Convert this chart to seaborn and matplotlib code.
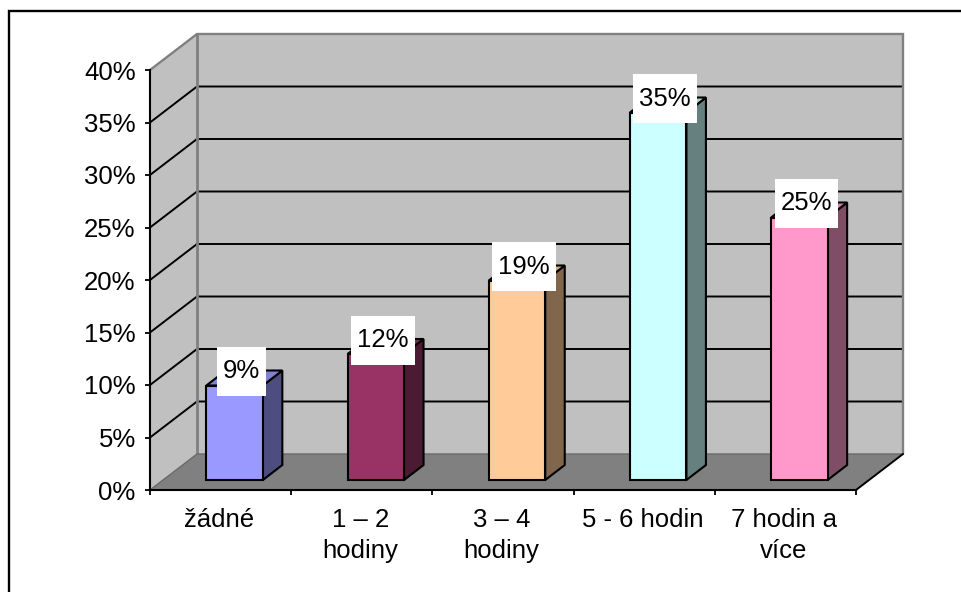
import matplotlib
matplotlib.use("Agg")
import matplotlib.pyplot as plt
import matplotlib.colors as mcolors
from matplotlib.lines import Line2D
from matplotlib.patches import Polygon, Rectangle
import seaborn as sns

categories = ["žádné", "1 – 2\nhodiny", "3 – 4\nhodiny", "5 - 6 hodin", "7 hodin a\nvíce"]
values = [9, 12, 19, 35, 25]
value_labels = ["9%", "12%", "19%", "35%", "25%"]
bar_colors = ["#9999FF", "#993366", "#FFCC99", "#CCFFFF", "#FF99CC"]
y_ticks = [0, 5, 10, 15, 20, 25, 30, 35, 40]

sns.set_style("white")
plt.rcParams["font.family"] = ["Liberation Sans", "DejaVu Sans"]

W, H = 962, 592
TEXT_SIZE = 18.5
fig = plt.figure(figsize=(W / 100, H / 100), dpi=100, facecolor="white")
ax = fig.add_axes([150 / W, (H - 490) / H, 706 / W, 420 / H])
ax.patch.set_visible(False)

sns.barplot(x=categories, y=values, hue=categories, palette=bar_colors, width=0.4,
            dodge=False, legend=False, saturation=1, ax=ax, zorder=5,
            edgecolor="black", linewidth=1.5)

ax.set_xlim(-0.5, 4.5)
ax.set_ylim(0, 40)

# Pixel sizes of the pseudo-3D projection, expressed in data units
PX_X = 1 / 141.2
PX_Y = 1 / 10.5
wall_dx, wall_dy = 47 * PX_X, 36 * PX_Y
bar_dx, bar_dy = 19.5 * PX_X, 15 * PX_Y
shift_x, shift_y = 14 * PX_X, 10 * PX_Y
x_lo, x_hi = -0.5, 4.5
y_lo, y_hi = 0, 40


def face(points, color, z, edge=None, lw=0.0):
    ax.add_patch(Polygon(points, closed=True, facecolor=color, edgecolor=edge or color,
                         linewidth=lw, zorder=z, clip_on=False, joinstyle="miter"))


def shade(color, factor):
    r, g, b = mcolors.to_rgb(color)
    return (r * factor, g * factor, b * factor)


# Back wall, side wall and floor
face([(x_lo + wall_dx, wall_dy), (x_hi + wall_dx, wall_dy),
      (x_hi + wall_dx, y_hi + wall_dy), (x_lo + wall_dx, y_hi + wall_dy)], "#C0C0C0", 0.5)
face([(x_lo, y_lo), (x_lo + wall_dx, wall_dy),
      (x_lo + wall_dx, y_hi + wall_dy), (x_lo, y_hi)], "#C0C0C0", 0.5)
face([(x_lo, y_lo), (x_hi, y_lo), (x_hi + wall_dx, wall_dy), (x_lo + wall_dx, wall_dy)],
     "#808080", 0.6)

# Gridlines run across the back wall and down the side wall
for tick in y_ticks[1:-1]:
    ax.plot([x_lo, x_lo + wall_dx, x_hi + wall_dx],
            [tick, tick + wall_dy, tick + wall_dy],
            color="black", lw=1.4, zorder=1, clip_on=False, solid_joinstyle="miter")

# Grey outlines of the walls
ax.plot([x_lo, x_lo + wall_dx, x_hi + wall_dx, x_hi + wall_dx],
        [y_hi, y_hi + wall_dy, y_hi + wall_dy, wall_dy],
        color="#808080", lw=1.7, zorder=1.2, clip_on=False, solid_joinstyle="miter")
ax.plot([x_lo + wall_dx, x_lo + wall_dx], [wall_dy, y_hi + wall_dy],
        color="#808080", lw=2.0, zorder=1.2, clip_on=False)
ax.plot([x_lo, x_lo + wall_dx, x_hi + wall_dx], [y_lo, wall_dy, wall_dy],
        color="#6A6A6A", lw=1.0, zorder=1.2, clip_on=False)
ax.plot([x_hi, x_hi + wall_dx], [y_lo, wall_dy],
        color="black", lw=1.4, zorder=1.3, clip_on=False)

# Slide the bars onto the floor and give them side and top faces
fronts = [p for p in ax.patches if isinstance(p, Rectangle) and p.get_height() > 0]
for bar, value, color in zip(fronts, values, bar_colors):
    bar.set_x(bar.get_x() + shift_x)
    bar.set_y(shift_y)
    bar.set_clip_on(False)
    x0, x1 = bar.get_x(), bar.get_x() + bar.get_width()
    base, top = shift_y, shift_y + value
    face([(x1, base), (x1 + bar_dx, base + bar_dy), (x1 + bar_dx, top + bar_dy), (x1, top)],
         shade(color, 0.5), 4, "black", 1.5)
    face([(x0, top), (x1, top), (x1 + bar_dx, top + bar_dy), (x0 + bar_dx, top + bar_dy)],
         shade(color, 5 / 6), 4, "black", 1.5)

# Value labels sit on white boxes above each bar
fig.canvas.draw()
renderer = fig.canvas.get_renderer()
for bar, value, text in zip(fronts, values, value_labels):
    cx = bar.get_x() + bar.get_width() / 2 + 7 * PX_X
    cy = shift_y + value + 14 * PX_Y
    label = ax.text(cx, cy, text, ha="center", va="center", fontsize=TEXT_SIZE, color="black",
                    zorder=8, clip_on=False)
    box_w = (label.get_window_extent(renderer).width + 12) * PX_X
    box_h = 49 * PX_Y
    ax.add_patch(Rectangle((cx - box_w / 2, cy - box_h / 2), box_w, box_h,
                           facecolor="white", edgecolor="none", zorder=7, clip_on=False))

# Axes: ticks mark category boundaries, labels sit at the centres
for side in ("top", "right"):
    ax.spines[side].set_visible(False)
for side in ("left", "bottom"):
    ax.spines[side].set_visible(True)
    ax.spines[side].set_color("black")
    ax.spines[side].set_linewidth(1.5)
    ax.spines[side].set_zorder(2)

ax.set_yticks(y_ticks)
ax.set_yticklabels([f"{t}%" for t in y_ticks], fontsize=TEXT_SIZE, color="black",
                   verticalalignment="center_baseline")
ax.set_xticks([x_lo + i for i in range(6)])
ax.set_xticklabels([])
ax.set_xticks([i - 1.5 * PX_X for i in range(len(categories))], minor=True)
ax.set_xticklabels(categories, minor=True, fontsize=TEXT_SIZE, color="black", linespacing=1.34)
ax.tick_params(axis="y", which="major", left=True, length=3.8, width=1.3, pad=6.5, color="black")
ax.tick_params(axis="x", which="major", bottom=True, length=3.8, width=1.3, color="black")
ax.tick_params(axis="x", which="minor", bottom=False, length=0, pad=13)
ax.set_xlabel("")
ax.set_ylabel("")
ax.grid(False)

# Chart frame, cut off by the right and bottom of the canvas
fig.add_artist(Line2D([8.5 / W, 8.5 / W, 1], [0, (H - 10.5) / H, (H - 10.5) / H],
                      color="black", lw=1.7, solid_joinstyle="miter"))

fig.savefig("out.png", dpi=100, facecolor="white")
